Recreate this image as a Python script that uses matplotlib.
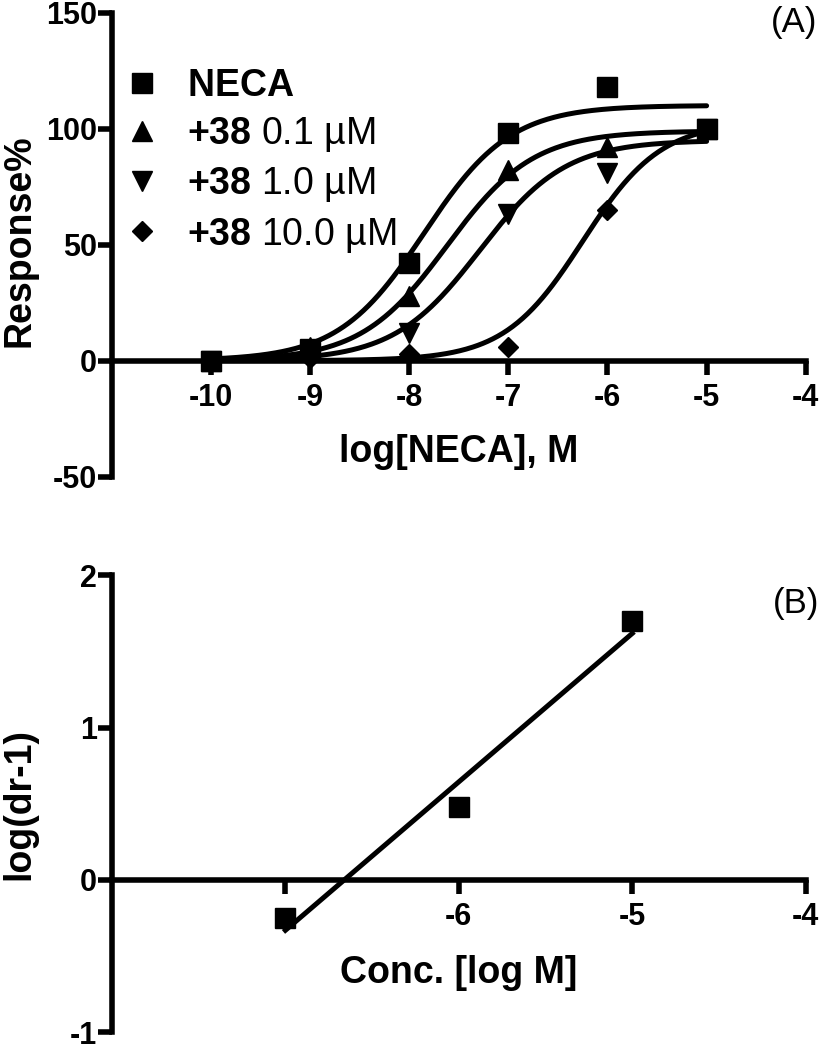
import numpy as np
import matplotlib
matplotlib.use("Agg")
import matplotlib.pyplot as plt

plt.rcParams['font.family'] = ['Liberation Sans', 'DejaVu Sans']
plt.rcParams['font.weight'] = 'bold'
plt.rcParams['axes.labelweight'] = 'bold'
plt.rcParams['axes.unicode_minus'] = False
plt.rcParams['mathtext.fontset'] = 'custom'
plt.rcParams['mathtext.rm'] = 'Liberation Sans'
plt.rcParams['mathtext.bf'] = 'Liberation Sans:bold'

# panel A: concentration-response data
log_neca = [-10, -9, -8, -7, -6, -5]
neca = [0, 5, 42, 98, 118, 100]
c38_01 = [0, 6, 28, 82, 92, 100]
c38_1 = [0, 3, 12, 63, 81, 100]
c38_10 = [0, 1, 3, 6, 65, 100]

# sigmoid fits: top, logEC50, hill slope
fit_top = [110, 99, 95, 103]
fit_ec50 = [-7.85, -7.62, -7.29, -6.25]
fit_hill = [1.0, 1.0, 1.0, 1.1]

labels = [r"$\mathbf{NECA}$", r"$\mathbf{{+}38}$ 0.1 µM",
          r"$\mathbf{{+}38}$ 1.0 µM", r"$\mathbf{{+}38}$ 10.0 µM"]
markers = ['s', '^', 'v', 'D']
msizes = [14, 14, 14, 10]

# panel B: Schild plot
conc = [-7, -6, -5]
log_dr = [-0.25, 0.48, 1.70]

LW = 4.0


def style_axes(ax):
    ax.spines['top'].set_visible(False)
    ax.spines['right'].set_visible(False)
    ax.spines['left'].set_linewidth(LW)
    ax.spines['bottom'].set_linewidth(LW)
    ax.spines['bottom'].set_position(('data', 0))
    ax.tick_params(axis='both', direction='out', width=LW, length=10,
                   labelsize=22)
    ax.tick_params(axis='x', pad=6)
    ax.tick_params(axis='y', pad=1)


fig = plt.figure(figsize=(8.23, 10.5), dpi=100)

# ---- panel A
axA = fig.add_axes([0.136, 0.546, 0.843, 0.442])
series = [neca, c38_01, c38_1, c38_10]
xs = np.linspace(-10, -5, 300)
for i, ys in enumerate(series):
    fit = fit_top[i] / (1 + 10 ** ((fit_ec50[i] - xs) * fit_hill[i]))
    axA.plot(xs, fit, color='black', lw=3.6, solid_capstyle='round', zorder=2)
    axA.plot(log_neca, ys, linestyle='none', marker=markers[i],
             markersize=msizes[i], color='black', label=labels[i], zorder=3)

axA.set_xlim(-11, -4)
axA.set_ylim(-50, 150)
axA.set_xticks([-10, -9, -8, -7, -6, -5, -4])
axA.set_yticks([-50, 0, 50, 100, 150])
style_axes(axA)
axA.set_xlabel("log[NECA], M", fontsize=27, fontweight='bold')
axA.xaxis.set_label_coords(0.5, 0.054)
axA.xaxis.label.set_verticalalignment('center')
axA.set_ylabel("Response%", fontsize=27, fontweight='bold')
axA.yaxis.set_label_coords(-0.133, 0.509)
axA.yaxis.label.set_verticalalignment('center')
axA.text(1.017, 0.978, "(A)", transform=axA.transAxes, ha='right',
         va='center', fontsize=25, fontweight='normal')
axA.legend(loc='upper left', bbox_to_anchor=(0.016, 0.881), frameon=False,
           prop={'size': 27, 'weight': 'normal'}, handlelength=1.0,
           handletextpad=0.7, labelspacing=0.3, borderpad=0,
           borderaxespad=0, numpoints=1)

# ---- panel B
axB = fig.add_axes([0.136, 0.0171, 0.843, 0.435])
slope, icpt = np.polyfit(conc, log_dr, 1)
xl = np.array([min(conc), max(conc)])
axB.plot(xl, slope * xl + icpt, color='black', lw=3.6, zorder=2)
axB.plot(conc, log_dr, linestyle='none', marker='s', markersize=14,
         color='black', zorder=3)
axB.set_xlim(-8, -4)
axB.set_ylim(-1, 2)
axB.set_xticks([-7, -6, -5, -4])
axB.set_xticklabels(['', '-6', '-5', '-4'])
axB.set_yticks([-1, 0, 1, 2])
style_axes(axB)
axB.set_xlabel("Conc. [log M]", fontsize=27, fontweight='bold')
axB.xaxis.set_label_coords(0.5, 0.13)
axB.xaxis.label.set_verticalalignment('center')
axB.set_ylabel("log(dr-1)", fontsize=27, fontweight='bold')
axB.yaxis.set_label_coords(-0.133, 0.5)
axB.yaxis.label.set_verticalalignment('center')
axB.text(1.019, 0.939, "(B)", transform=axB.transAxes, ha='right',
         va='center', fontsize=25, fontweight='normal')

fig.savefig("out.png", dpi=100)
